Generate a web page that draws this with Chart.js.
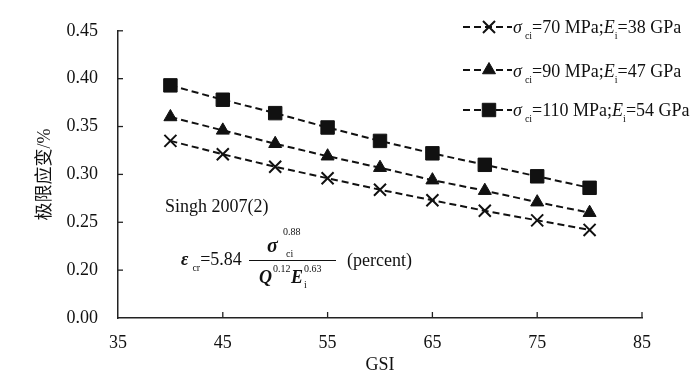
<!DOCTYPE html>
<html>
<head>
<meta charset="utf-8">
<script src="https://cdn.jsdelivr.net/npm/chart.js@4.4.1/dist/chart.umd.min.js"></script>
<style>
  html, body { margin: 0; padding: 0; background: #fff; }
  #wrap { position: relative; width: 700px; height: 378px; overflow: hidden; }
  canvas { position: absolute; left: 0; top: 0; }
  .t { position: absolute; font-family: 'Liberation Serif', 'Times New Roman', serif; font-size: 18px; line-height: 18px; color: #111; white-space: nowrap; }
  .s { font-size: 10px; line-height: 10px; }
  .i { font-style: italic; }
  .b { font-weight: bold; }
  .bar { position: absolute; background: #111; height: 1.3px; }
</style>
</head>
<body>
<div id="wrap">
  <canvas id="c" width="700" height="378"></canvas>

  <!-- legend text -->
  <div class="t" style="left:513px; top:18px;"><span class="i">σ</span><span class="s" style="position:relative; top:6px; margin-left:3px;">ci</span>=70 MPa;<span class="i">E</span><span class="s" style="position:relative; top:6px;">i</span>=38 GPa</div>
  <div class="t" style="left:513px; top:62px;"><span class="i">σ</span><span class="s" style="position:relative; top:6px; margin-left:3px;">ci</span>=90 MPa;<span class="i">E</span><span class="s" style="position:relative; top:6px;">i</span>=47 GPa</div>
  <div class="t" style="left:513px; top:101px;"><span class="i">σ</span><span class="s" style="position:relative; top:6px; margin-left:3px;">ci</span>=110 MPa;<span class="i">E</span><span class="s" style="position:relative; top:6px;">i</span>=54 GPa</div>

  <!-- annotation -->
  <div class="t" style="left:165px; top:197px;">Singh 2007(2)</div>
  <div class="t" style="left:181px; top:250px;"><span class="i b">ε</span><span class="s" style="position:relative; top:6px; margin-left:4px;">cr</span>=5.84</div>
  <div class="t i b" style="left:267px; top:236px; font-size:20px;">σ</div>
  <div class="t s" style="left:283px; top:227px;">0.88</div>
  <div class="t s" style="left:286px; top:249px;">ci</div>
  <div class="bar" style="left:249px; top:260px; width:87px;"></div>
  <div class="t i b" style="left:259px; top:268px;">Q</div>
  <div class="t s" style="left:273px; top:264px;">0.12</div>
  <div class="t i b" style="left:291px; top:268px;">E</div>
  <div class="t s" style="left:304px; top:264px;">0.63</div>
  <div class="t s" style="left:304px; top:280px;">i</div>
  <div class="t" style="left:347px; top:251px;">(percent)</div>
</div>

<script>
// ---- data ----
const gsi = [40, 45, 50, 55, 60, 65, 70, 75, 80];
const strain70_38  = [0.335, 0.321, 0.308, 0.296, 0.284, 0.273, 0.262, 0.252, 0.242];
const strain90_47  = [0.360, 0.346, 0.332, 0.319, 0.307, 0.294, 0.283, 0.271, 0.260];
const strain110_54 = [0.393, 0.378, 0.364, 0.349, 0.335, 0.322, 0.310, 0.298, 0.286];
const seriesNames = ['σci=70 MPa;Ei=38 GPa', 'σci=90 MPa;Ei=47 GPa', 'σci=110 MPa;Ei=54 GPa'];
const xTickValues = [35, 45, 55, 65, 75, 85];
const yTickLabels = ['0.00', '0.20', '0.25', '0.30', '0.35', '0.40', '0.45']; // broken axis: lowest tick labelled 0.00

const INK = '#111';
const DASH = [7, 4];
const SERIF = "'Liberation Serif', 'Times New Roman', serif";

function pts(ys) { return gsi.map((g, i) => ({ x: g, y: ys[i] })); }

const markerStyles = [
  { pointStyle: 'crossRot', pointRadius: 8.5, pointBorderWidth: 2, pointBackgroundColor: INK },
  { pointStyle: 'triangle', pointRadius: 7.5, pointBorderWidth: 1, pointBackgroundColor: INK },
  { pointStyle: 'rect', pointRadius: 9.5, pointBorderWidth: 1, pointBackgroundColor: INK }
];

const seriesData = [strain70_38, strain90_47, strain110_54];

const datasets = seriesData.map((ys, i) => Object.assign({
  label: seriesNames[i],
  data: pts(ys),
  borderColor: INK,
  borderWidth: 2,
  borderDash: DASH,
  pointBorderColor: INK,
  pointHoverRadius: 9,
  fill: false,
  tension: 0
}, markerStyles[i]));

// inward tick marks + legend samples
const decor = {
  id: 'decor',
  afterDraw(chart) {
    const { ctx, scales: { x, y }, chartArea: a } = chart;
    ctx.save();
    ctx.strokeStyle = '#222';
    ctx.lineWidth = 1.3;
    x.ticks.forEach(t => {
      const px = x.getPixelForValue(t.value);
      if (Math.abs(px - a.left) < 1) return;
      ctx.beginPath(); ctx.moveTo(px, a.bottom); ctx.lineTo(px, a.bottom - 6); ctx.stroke();
    });
    y.ticks.forEach(t => {
      const py = y.getPixelForValue(t.value);
      if (Math.abs(py - a.bottom) < 1) return;
      ctx.beginPath(); ctx.moveTo(a.left, py); ctx.lineTo(a.left + 5, py); ctx.stroke();
    });

    // legend samples
    const rows = [27, 70, 110];
    rows.forEach((ry, i) => {
      ctx.save();
      ctx.strokeStyle = INK; ctx.lineWidth = 2; ctx.setLineDash(DASH);
      ctx.beginPath(); ctx.moveTo(463, ry); ctx.lineTo(512, ry); ctx.stroke();
      ctx.restore();
      const m = markerStyles[i];
      const cx = 489, r = m.pointRadius;
      ctx.save();
      ctx.fillStyle = INK; ctx.strokeStyle = INK; ctx.lineWidth = m.pointBorderWidth;
      ctx.beginPath();
      if (m.pointStyle === 'crossRot') {
        const d = Math.cos(Math.PI / 4) * r;
        ctx.moveTo(cx - d, ry - d); ctx.lineTo(cx + d, ry + d);
        ctx.moveTo(cx + d, ry - d); ctx.lineTo(cx - d, ry + d);
        ctx.stroke();
      } else if (m.pointStyle === 'triangle') {
        ctx.moveTo(cx, ry - r);
        ctx.lineTo(cx + Math.sin(2 * Math.PI / 3) * r, ry + r / 2);
        ctx.lineTo(cx - Math.sin(2 * Math.PI / 3) * r, ry + r / 2);
        ctx.closePath(); ctx.fill(); ctx.stroke();
      } else {
        const h = Math.SQRT1_2 * r;
        ctx.rect(cx - h, ry - h, 2 * h, 2 * h);
        ctx.fill(); ctx.stroke();
      }
      ctx.restore();
    });
    ctx.restore();
  }
};

new Chart(document.getElementById('c'), {
  type: 'line',
  data: { datasets },
  options: {
    responsive: false,
    animation: false,
    events: [],
    layout: { padding: { left: 0, right: 58, top: 24, bottom: 0 } },
    plugins: { legend: { display: false }, tooltip: { enabled: false } },
    scales: {
      x: {
        type: 'linear',
        min: 35, max: 85,
        afterFit: s => { s.height = 60; },
        afterBuildTicks: s => { s.ticks = xTickValues.map(v => ({ value: v })); },
        grid: { display: true, drawOnChartArea: false, drawTicks: false },
        border: { display: true, color: '#222', width: 1.5 },
        ticks: { padding: 14, color: INK, font: { family: SERIF, size: 18 }, maxRotation: 0, callback: v => String(v) },
        title: { display: true, text: 'GSI', color: INK, font: { family: SERIF, size: 18 }, padding: { top: 0, bottom: 2 } }
      },
      y: {
        type: 'linear',
        min: 0.15, max: 0.45,
        afterFit: s => { s.width = 118; },
        afterBuildTicks: s => { s.ticks = yTickLabels.map((_, i) => ({ value: 0.15 + i * 0.05 })); },
        grid: { display: true, drawOnChartArea: false, drawTicks: false },
        border: { display: true, color: '#222', width: 1.5 },
        ticks: { padding: 20, color: INK, font: { family: SERIF, size: 18 }, callback: (v, i) => yTickLabels[i] },
        title: { display: true, text: '极限应变/%', color: INK, font: { family: "'Liberation Serif', 'Noto Sans CJK SC', serif", size: 18 }, padding: { top: 34, bottom: 0 } }
      }
    }
  },
  plugins: [decor]
});
</script>
</body>
</html>
